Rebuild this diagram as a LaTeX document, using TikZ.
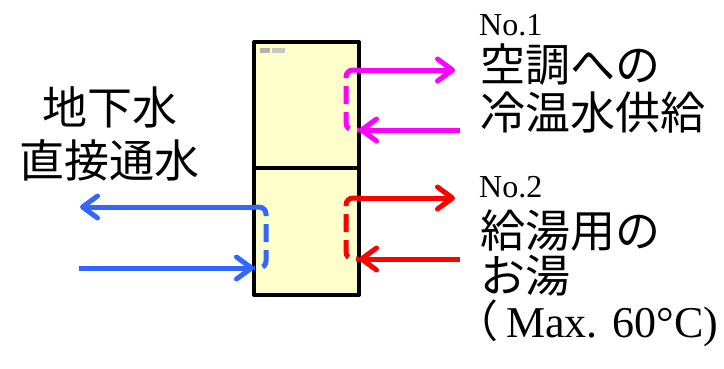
\documentclass[tikz,border=0pt]{standalone}
\usepackage{fontspec}
\setmainfont{Liberation Serif}
\newfontfamily\jp{Noto Sans CJK JP}
\usetikzlibrary{arrows.meta}
\definecolor{boxfill}{HTML}{FFFFCC}
\definecolor{mag}{HTML}{FF00FF}
\definecolor{rd}{HTML}{FF0000}
\definecolor{bl}{HTML}{3366FF}
\begin{document}
\begin{tikzpicture}[x=1pt,y=-1pt,
  unitbox/.style={rectangle, draw=black, line width=4pt, fill=boxfill, minimum width=105pt, inner sep=0pt, outer sep=0pt, line join=round},
  flow/.style={line width=5pt, -{Straight Barb[length=15pt,width=22pt,round]}},
  innerpipe/.style={line width=5pt, dash pattern=on 18pt off 8pt, rounded corners=7pt},
  jptext/.style={font=\jp\fontsize{45}{50}\selectfont, inner sep=0pt, anchor=base west},
  serif/.style={inner sep=0pt, anchor=base west}]
\useasboundingbox (0,0) rectangle (724,368);
% units
\node[unitbox, minimum height=126pt] (up) at (306.5,105) {};
\node[unitbox, minimum height=127pt] (lo) at (306.5,231.5) {};
\fill[gray!60] (260,47.5) rectangle (270,52.5);
\fill[gray!45] (272,48) rectangle (285,52.5);
% free ends
\coordinate (mOut) at (455,70);
\coordinate (mIn) at (460,130);
\coordinate (rOut) at (455,198);
\coordinate (rIn) at (460,259);
\coordinate (bOut) at (80,207);
\coordinate (bIn) at (79,268);
% inner dashed pipes
\draw[innerpipe, mag] (up.east |- mOut) -| (346,130) -- (up.east |- mIn);
\draw[innerpipe, rd] (lo.east |- rOut) -| (346,259) -- (lo.east |- rIn);
\draw[innerpipe, bl] (lo.west |- bOut) -| (266,268) -- (lo.west |- bIn);
% arrows
\draw[flow, mag] (up.east |- mOut) -- (mOut);
\draw[flow, mag] (mIn) -- (up.east |- mIn);
\draw[flow, rd] (lo.east |- rOut) -- (rOut);
\draw[flow, rd] (rIn) -- (lo.east |- rIn);
\draw[flow, bl] (lo.west |- bOut) -- (bOut);
\draw[flow, bl] (bIn) -- (lo.west |- bIn);
% texts
\node[serif, font=\fontsize{32}{36}\selectfont] (no1) at (479,35) {No.1};
\node[jptext] (t1) at (480,81) {空調への};
\node[jptext] (t2) at (480,129) {冷温水供給};
\node[serif, font=\fontsize{32}{36}\selectfont] (no2) at (479,197) {No.2};
\node[jptext] (t3) at (480,247) {給湯用の};
\node[jptext] (t4) at (480,292) {お湯};
\node[serif, font=\fontsize{44}{48}\selectfont] (t5) at (454,337) {{\jp （}\kern8pt Max. 60°C)};
\node[jptext, anchor=base] (l1) at (109.5,124) {地下水};
\node[jptext, anchor=base] (l2) at (109.5,177) {直接通水};
\begin{scope}
\clip (0,0) rectangle (724,368);
\node[jptext, font=\jp\fontsize{53}{60}\selectfont] (bot) at (9,418) {研究開発の目標};
\end{scope}
\end{tikzpicture}
\end{document}
